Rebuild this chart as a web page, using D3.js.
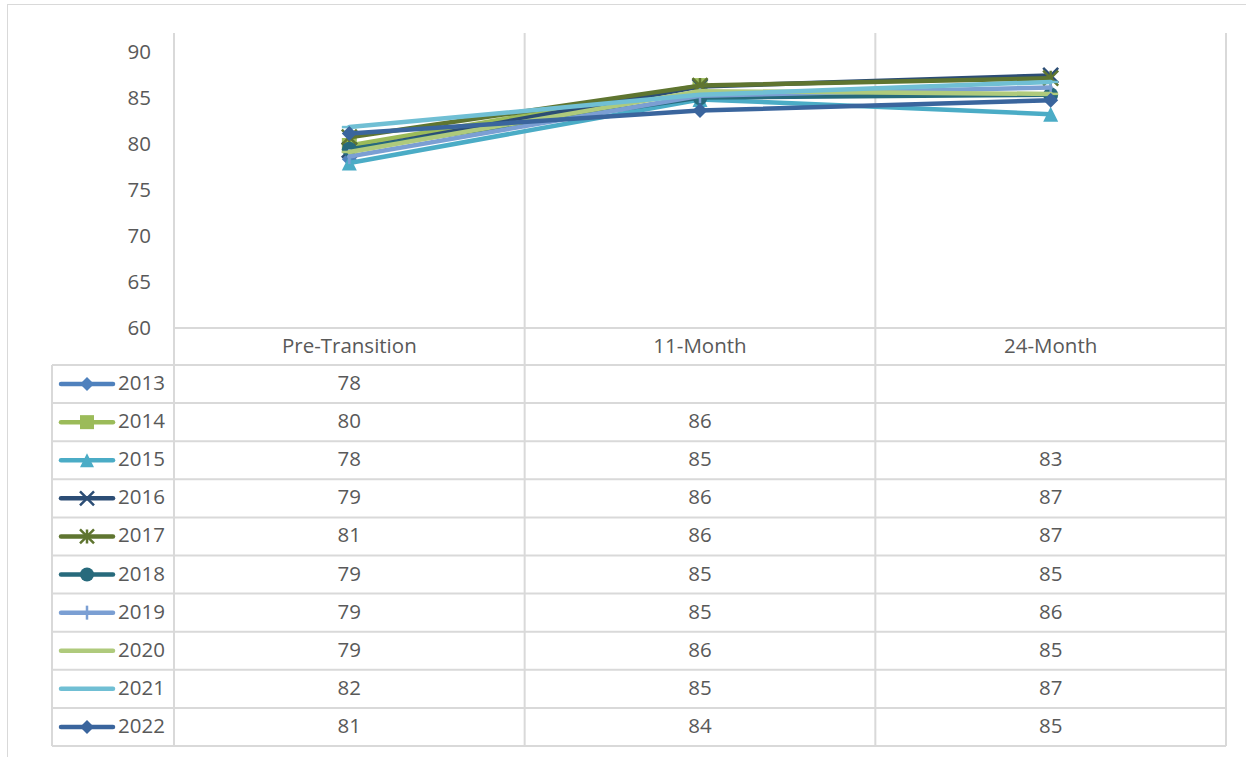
<!DOCTYPE html>
<html>
<head>
<meta charset="utf-8">
<script src="https://cdn.jsdelivr.net/npm/d3@7"></script>
<style>
  html, body { margin: 0; padding: 0; background: #fff; }
  svg { display: block; font-family: "Open Sans", "Noto Sans", sans-serif; }
</style>
</head>
<body>
<svg id="chart" width="1246" height="757"></svg>
<script>
// Time points along the category axis
const categories = ["Pre-Transition", "11-Month", "24-Month"];

// Cohort years
const years = ["2013", "2014", "2015", "2016", "2017", "2018", "2019", "2020", "2021", "2022"];

// Scores per cohort at each time point (null = not yet measured)
const s2013 = [78.3, null, null];
const s2014 = [79.8, 86.3, null];
const s2015 = [77.9, 84.8, 83.2];
const s2016 = [79.3, 86.2, 87.4];
const s2017 = [80.7, 86.3, 87.1];
const s2018 = [79.4, 85.0, 85.3];
const s2019 = [78.6, 85.2, 86.1];
const s2020 = [79.1, 85.7, 85.4];
const s2021 = [81.8, 85.3, 86.7];
const s2022 = [81.1, 83.6, 84.7];

// Y axis ticks
const yTicks = [60, 65, 70, 75, 80, 85, 90];

// Series colours and marker types
const colors = ["#4f81bd", "#9bbb59", "#4bacc6", "#2c4d75", "#5f7530",
                "#276a7c", "#7b9fd3", "#afca7c", "#70bfd4", "#3a659d"];
const markers = ["diamond", "square", "triangle", "x", "star",
                 "circle", "plus", "dash", "dash", "diamond"];

const seriesValues = [s2013, s2014, s2015, s2016, s2017, s2018, s2019, s2020, s2021, s2022];
const series = years.map((yr, i) => ({
  year: yr,
  color: colors[i],
  marker: markers[i],
  points: categories.map((c, j) => ({ cat: c, v: seriesValues[i][j] }))
}));

const svg = d3.select("#chart");
const grid = "#d9d9d9";
const textColor = "#595959";
const fontSize = 20.5;
const textShift = -2;

// Layout
const plotLeft = 174, plotRight = 1226, plotTop = 33, axisY = 328;
const tableBottom = 746, headerBottom = 365, legendLeft = 52;

const x = d3.scaleBand().domain(categories).range([plotLeft, plotRight]);
const y = d3.scaleLinear().domain([60, 90]).range([axisY, 51.5]);
const row = d3.scaleBand().domain(years).range([headerBottom, tableBottom]);

// Chart frame
svg.append("rect")
  .attr("x", 7.5).attr("y", 4.5)
  .attr("width", 1260).attr("height", 770)
  .attr("fill", "#fff").attr("stroke", grid).attr("stroke-width", 1);

// Vertical category dividers (span the plot and the data table)
const edges = categories.map(c => x(c)).concat([plotRight]);
svg.append("g").selectAll("line").data(edges).join("line")
  .attr("x1", d => d).attr("x2", d => d)
  .attr("y1", plotTop).attr("y2", tableBottom)
  .attr("stroke", grid).attr("stroke-width", 2);

// Horizontal table rules
svg.append("line")
  .attr("x1", plotLeft).attr("x2", plotRight)
  .attr("y1", axisY).attr("y2", axisY)
  .attr("stroke", grid).attr("stroke-width", 2);
const rules = years.map(yr => row(yr)).concat([tableBottom]);
svg.append("g").selectAll("line").data(rules).join("line")
  .attr("x1", legendLeft).attr("x2", plotRight)
  .attr("y1", d => d).attr("y2", d => d)
  .attr("stroke", grid).attr("stroke-width", 2);
svg.append("line")
  .attr("x1", legendLeft).attr("x2", legendLeft)
  .attr("y1", headerBottom).attr("y2", tableBottom)
  .attr("stroke", grid).attr("stroke-width", 2);

// Y axis
const yAxis = svg.append("g")
  .attr("transform", `translate(${plotLeft},0)`)
  .call(d3.axisLeft(y).tickValues(yTicks).tickSize(0).tickPadding(23));
yAxis.select(".domain").remove();
yAxis.selectAll("text")
  .attr("fill", textColor)
  .style("font-size", fontSize + "px")
  .style("font-family", "'Open Sans', sans-serif");

// Category header row
svg.append("g").selectAll("text").data(categories).join("text")
  .attr("x", d => x(d) + x.bandwidth() / 2)
  .attr("y", (axisY + headerBottom) / 2 + textShift)
  .attr("text-anchor", "middle")
  .attr("dominant-baseline", "central")
  .attr("fill", textColor)
  .style("font-size", fontSize + "px")
  .text(d => d);

// Marker path generator (size = half extent)
function markerPath(type, r) {
  switch (type) {
    case "diamond": return `M0,${-r}L${r},0L0,${r}L${-r},0Z`;
    case "square": return `M${-r},${-r}H${r}V${r}H${-r}Z`;
    case "triangle": return `M0,${-r}L${r},${r}H${-r}Z`;
    case "circle": return d3.symbol(d3.symbolCircle, Math.PI * r * r)();
    case "x": return `M${-r},${-r}L${r},${r}M${r},${-r}L${-r},${r}`;
    case "star": return `M${-r},${-r}L${r},${r}M${r},${-r}L${-r},${r}M0,${-r}V${r}`;
    case "plus": return `M0,${-r}V${r}`;
    case "dash": return `M${-r},0H${r}`;
  }
}
const stroked = new Set(["x", "star", "plus", "dash"]);

function drawMarker(sel, s, r) {
  const isStroke = stroked.has(s.marker);
  sel.attr("d", markerPath(s.marker, r))
    .attr("fill", isStroke ? "none" : s.color)
    .attr("stroke", s.color)
    .attr("stroke-width", isStroke ? 2.5 : 0);
}

// Series lines and markers, drawn in series order
const line = d3.line()
  .defined(d => d.v != null)
  .x(d => x(d.cat) + x.bandwidth() / 2)
  .y(d => y(d.v));

const plot = svg.append("g");
series.forEach(s => {
  const g = plot.append("g");
  g.append("path")
    .datum(s.points)
    .attr("d", line)
    .attr("fill", "none")
    .attr("stroke", s.color)
    .attr("stroke-width", 4.5)
    .attr("stroke-linejoin", "round")
    .attr("stroke-linecap", "round");
  g.selectAll("path.mk").data(s.points.filter(d => d.v != null)).join("path")
    .attr("class", "mk")
    .attr("transform", d => `translate(${x(d.cat) + x.bandwidth() / 2},${y(d.v)})`)
    .each(function () { drawMarker(d3.select(this), s, 7.5); });
});

// Data table rows: legend key + values
const fmt = d3.format(".0f");
series.forEach(s => {
  const cy = row(s.year) + row.bandwidth() / 2;
  const g = svg.append("g");
  g.append("line")
    .attr("x1", 61).attr("x2", 113)
    .attr("y1", cy).attr("y2", cy)
    .attr("stroke", s.color).attr("stroke-width", 4.5)
    .attr("stroke-linecap", "round");
  g.append("path")
    .attr("transform", `translate(87,${cy})`)
    .each(function () { drawMarker(d3.select(this), s, 7); });
  g.append("text")
    .attr("x", 118).attr("y", cy + textShift)
    .attr("dominant-baseline", "central")
    .attr("fill", textColor)
    .style("font-size", fontSize + "px")
    .text(s.year);
  g.selectAll("text.val").data(s.points.filter(d => d.v != null)).join("text")
    .attr("class", "val")
    .attr("x", d => x(d.cat) + x.bandwidth() / 2)
    .attr("y", cy + textShift)
    .attr("text-anchor", "middle")
    .attr("dominant-baseline", "central")
    .attr("fill", textColor)
    .style("font-size", fontSize + "px")
    .text(d => fmt(d.v));
});
</script>
</body>
</html>
